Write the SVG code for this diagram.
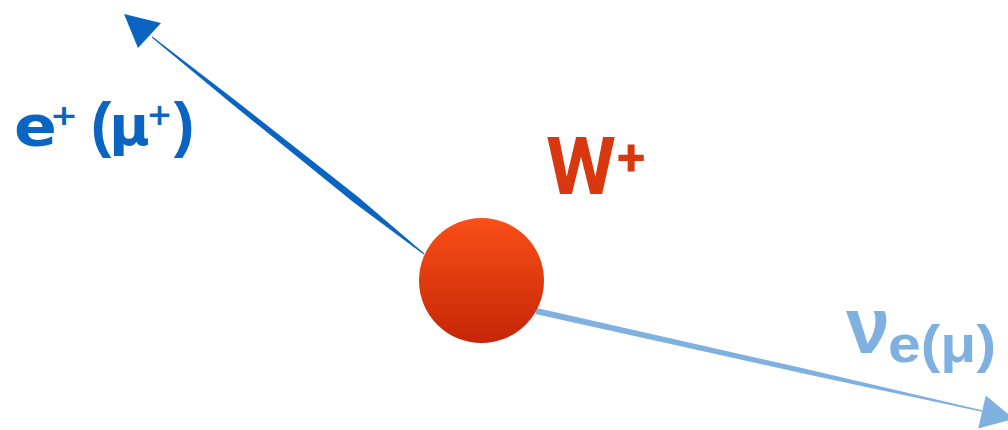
<svg xmlns="http://www.w3.org/2000/svg" width="1008" height="430" viewBox="0 0 1008 430">
  <defs>
    <linearGradient id="ballGrad" x1="0" y1="0" x2="0" y2="1">
      <stop offset="0" stop-color="#fa4f18"/>
      <stop offset="1" stop-color="#c52606"/>
    </linearGradient>
    <style>
      .dark { fill: #0a65c2; }
      .light { fill: #7fb1e0; }
      .lbl-dark { fill: #0a65c2; font-family: "DejaVu Sans", sans-serif; font-weight: bold; text-anchor: middle; }
      .paren { font-family: "Liberation Sans", Arial, sans-serif; }
      .lbl-red { fill: #d9370f; font-family: Roboto, "Liberation Sans", sans-serif; font-weight: bold; }
      .lbl-light { fill: #7fb1e0; font-family: "Liberation Sans", Arial, sans-serif; font-weight: bold; }
    </style>
  </defs>
  <rect width="1008" height="430" fill="#ffffff"/>

  <g id="connectors">
    <!-- W+ to e+ (mu+) -->
    <polygon class="dark" points="151.7,37.4 232.0,104.1 353.8,202.5 423.7,254.4 424.3,253.6 358.2,197.0 235.2,100.2 152.3,36.6"/>
    <polygon class="dark" points="124,14 161,23 138,48"/>
    <!-- W+ to neutrino -->
    <polygon class="light" points="535.3,313.9 803.1,373.4 981.8,411.7 982.2,410.3 804.1,368.6 536.7,308.1"/>
    <polygon class="light" points="1014,419 985.8,395.4 978.2,428.6"/>
  </g>

  <g id="node-W">
    <circle cx="481.5" cy="280.5" r="62.5" fill="url(#ballGrad)"/>
    <text class="lbl-red" x="546" y="194" font-size="80">W</text>
    <text class="lbl-red" x="617" y="175" font-size="52">+</text>
  </g>

  <g id="node-lepton">
    <text class="lbl-dark" transform="translate(35.5 0) scale(1.15 1)"><tspan x="0" y="145" font-size="55">e</tspan><tspan x="24.8" y="125" font-size="29">+</tspan></text>
    <text class="lbl-dark"><tspan class="paren" x="101" y="145" font-size="62">(</tspan><tspan x="129.5" y="145" font-size="55">μ</tspan><tspan x="159.5" y="125" font-size="31">+</tspan><tspan class="paren" x="184" y="145" font-size="62">)</tspan></text>
  </g>

  <g id="node-neutrino">
    <text class="lbl-light" x="846" y="353" font-size="79">ν</text>
    <text class="lbl-light" x="888" y="362" font-size="52" textLength="108" lengthAdjust="spacingAndGlyphs">e(μ)</text>
  </g>
</svg>
